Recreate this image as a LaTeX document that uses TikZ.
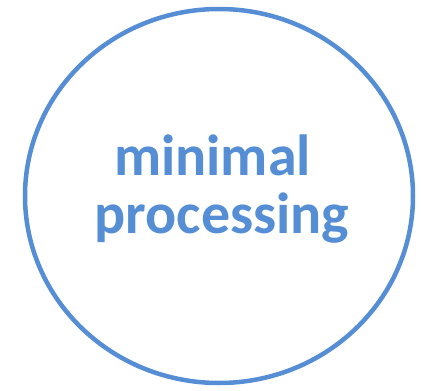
\documentclass[tikz,border=0pt]{standalone}
\usepackage{fontspec}
\setmainfont{Carlito}
\definecolor{accentblue}{HTML}{558ED5}
\tikzset{label text/.style={text=accentblue,font=\fontsize{58}{60}\selectfont\bfseries,inner sep=0pt,anchor=base}}
\begin{document}
\begin{tikzpicture}[x=1pt,y=-1pt]
\useasboundingbox (0,0) rectangle (421,391);
\draw[accentblue,line width=4.5pt] (219,196) ellipse (194 and 187);
\node[label text] (minimal) at (212.5,175) {minimal};
\node[label text] (processing) at (222,233) {processing};
\end{tikzpicture}
\end{document}
